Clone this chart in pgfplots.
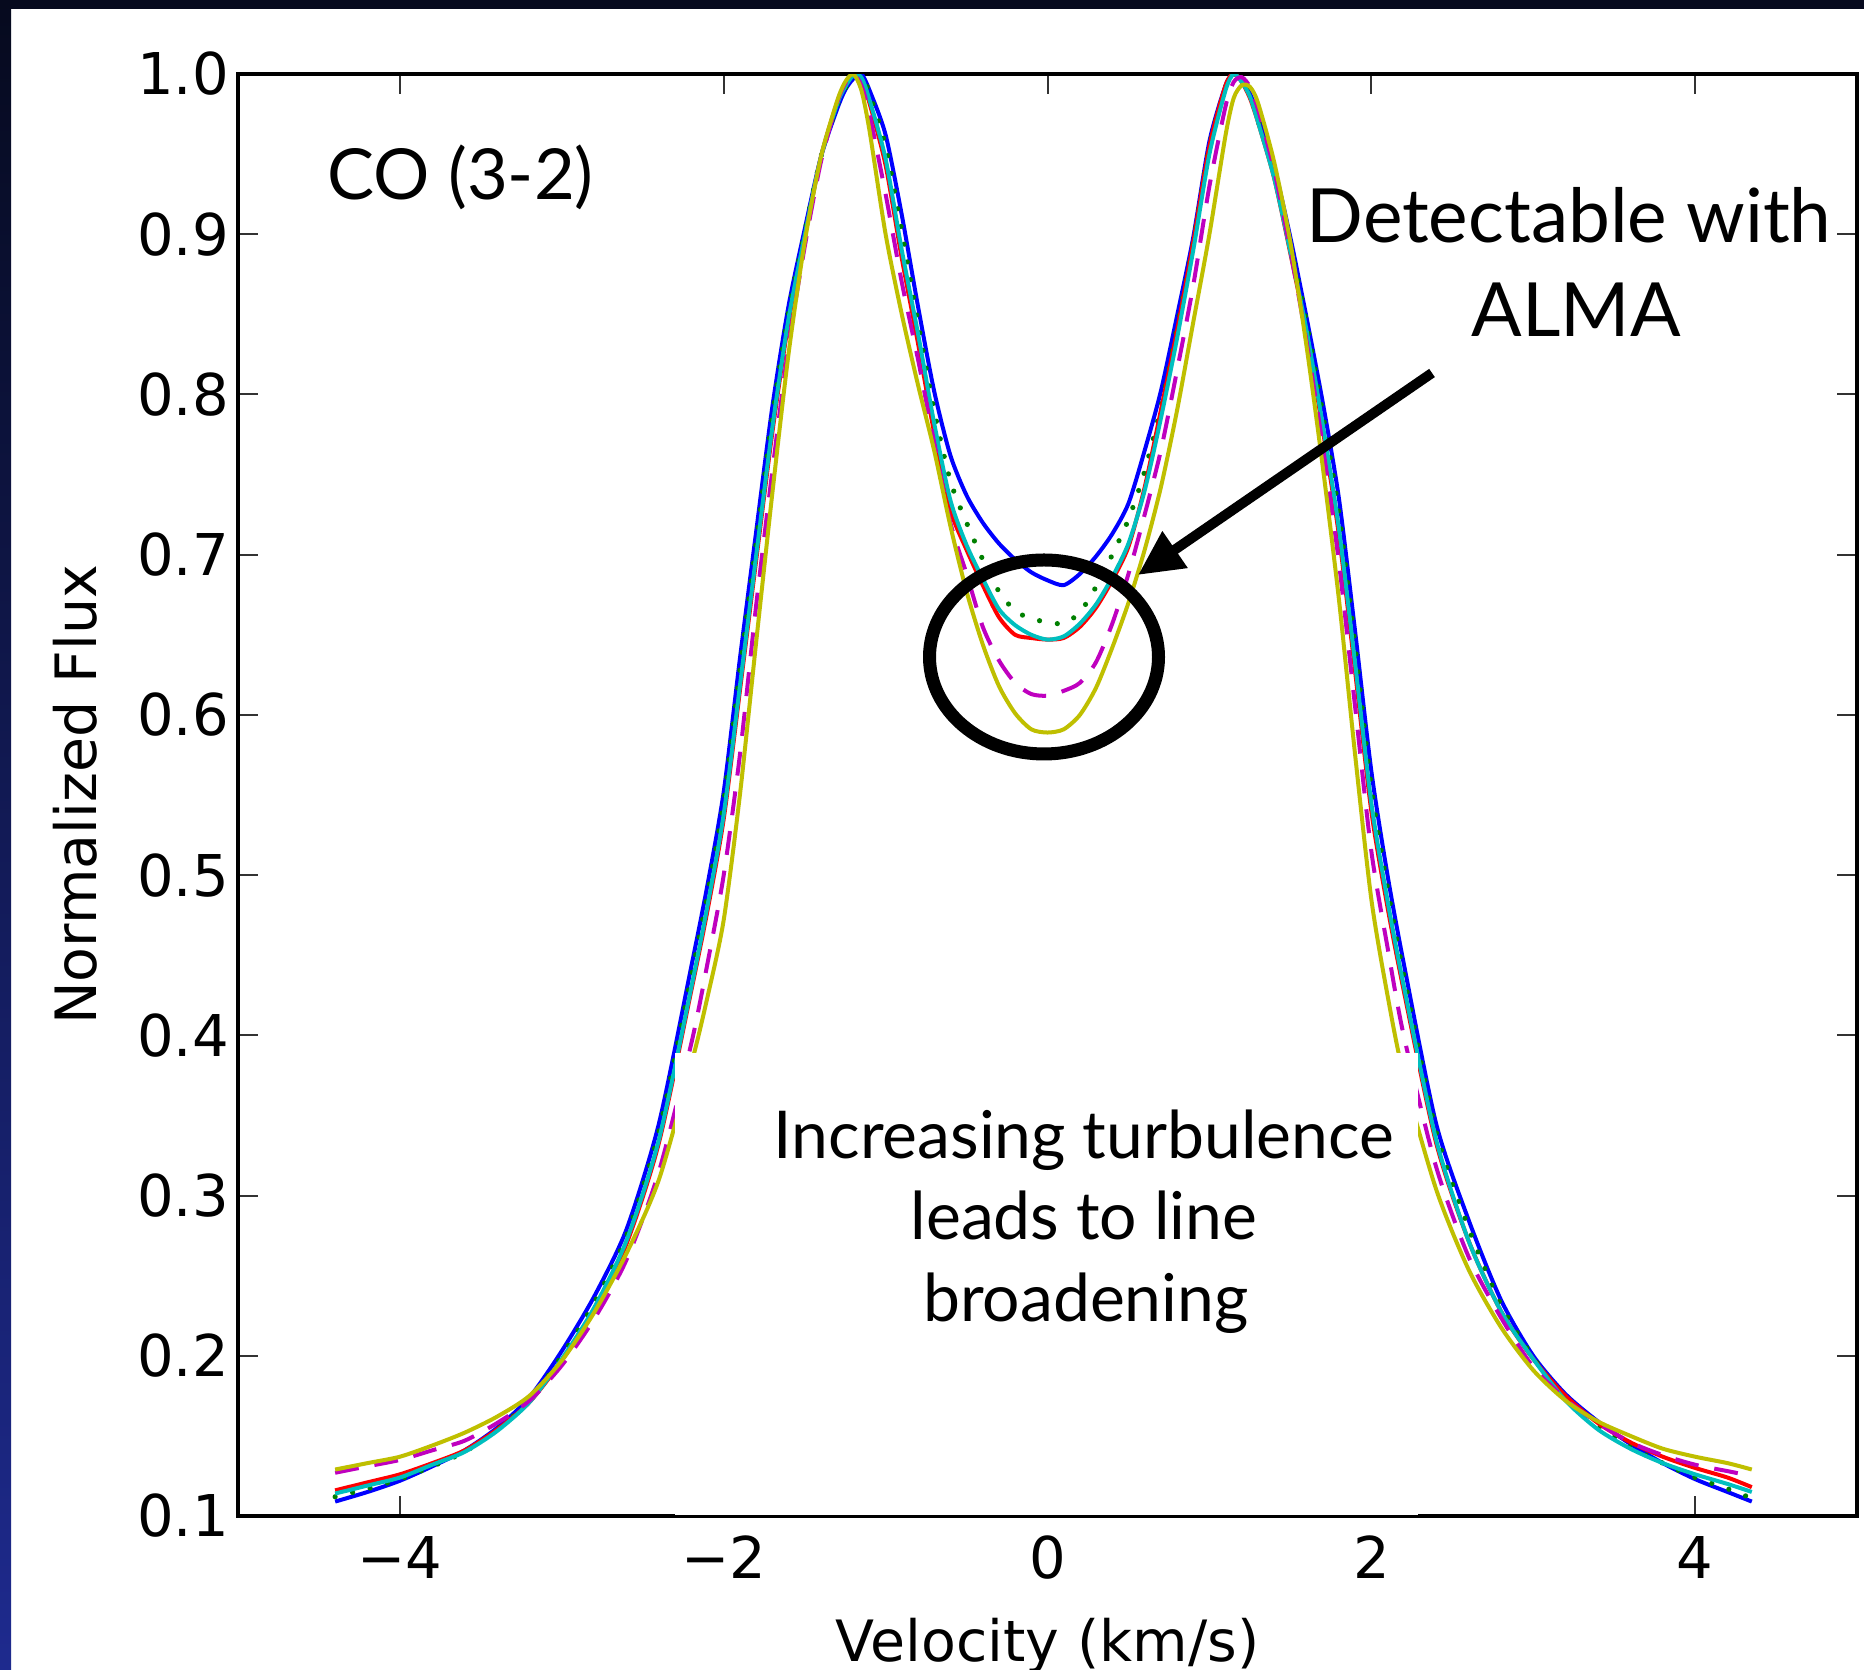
\documentclass[border=0pt]{standalone}
\usepackage{fontspec}
\setmainfont{DejaVu Sans}
\newfontfamily\lato{Lato}
\usepackage{pgfplots}
\pgfplotsset{compat=1.18}
\usepackage{pgfplotstable}
\usetikzlibrary{arrows.meta}

\definecolor{mplb}{rgb}{0,0,1}
\definecolor{mplg}{rgb}{0,0.5,0}
\definecolor{mplr}{rgb}{1,0,0}
\definecolor{mplc}{rgb}{0,0.75,0.75}
\definecolor{mplm}{rgb}{0.75,0,0.75}
\definecolor{mply}{rgb}{0.75,0.75,0}
\definecolor{bgdark}{HTML}{060A1E}
\definecolor{bgblue}{HTML}{1E2A8E}

\pgfplotstableread{
x b g r c m y
-4.40 0.109 0.112 0.116 0.114 0.127 0.129
-4.20 0.115 0.117 0.121 0.119 0.131 0.133
-4.00 0.122 0.123 0.126 0.124 0.135 0.137
-3.80 0.131 0.131 0.133 0.132 0.141 0.144
-3.60 0.141 0.140 0.141 0.140 0.147 0.152
-3.40 0.155 0.154 0.154 0.153 0.158 0.162
-3.20 0.174 0.172 0.171 0.171 0.172 0.175
-3.00 0.203 0.200 0.197 0.198 0.194 0.197
-2.80 0.237 0.233 0.229 0.230 0.223 0.227
-2.60 0.279 0.275 0.270 0.272 0.260 0.264
-2.40 0.345 0.340 0.333 0.335 0.315 0.310
-2.20 0.443 0.437 0.428 0.430 0.395 0.382
-2.10 0.494 0.488 0.478 0.481 0.445 0.424
-2.00 0.552 0.546 0.535 0.538 0.500 0.472
-1.90 0.635 0.628 0.615 0.618 0.575 0.550
-1.80 0.714 0.707 0.696 0.699 0.668 0.645
-1.70 0.792 0.786 0.776 0.779 0.752 0.738
-1.60 0.855 0.851 0.845 0.847 0.830 0.825
-1.50 0.903 0.901 0.898 0.899 0.892 0.895
-1.40 0.948 0.948 0.948 0.948 0.945 0.948
-1.30 0.978 0.980 0.982 0.981 0.982 0.983
-1.25 0.990 0.991 0.993 0.992 0.994 0.995
-1.20 0.997 0.998 1.000 0.999 1.000 1.000
-1.15 1.000 1.000 0.997 0.998 0.993 0.990
-1.10 0.990 0.988 0.982 0.984 0.975 0.965
-1.00 0.962 0.955 0.943 0.947 0.925 0.900
-0.90 0.912 0.902 0.885 0.890 0.870 0.850
-0.80 0.855 0.845 0.832 0.838 0.822 0.806
-0.70 0.802 0.790 0.776 0.782 0.770 0.765
-0.60 0.762 0.746 0.728 0.734 0.720 0.718
-0.50 0.737 0.720 0.703 0.706 0.688 0.677
-0.40 0.720 0.697 0.681 0.685 0.655 0.644
-0.30 0.707 0.677 0.661 0.666 0.634 0.618
-0.20 0.697 0.665 0.650 0.656 0.620 0.601
-0.10 0.689 0.660 0.648 0.650 0.613 0.591
0.00 0.684 0.658 0.647 0.647 0.612 0.589
0.10 0.681 0.657 0.648 0.649 0.615 0.591
0.20 0.688 0.664 0.655 0.657 0.620 0.600
0.30 0.699 0.680 0.667 0.669 0.633 0.617
0.40 0.713 0.700 0.684 0.686 0.657 0.642
0.50 0.732 0.722 0.705 0.707 0.688 0.670
0.60 0.765 0.752 0.742 0.740 0.725 0.703
0.70 0.802 0.792 0.790 0.785 0.765 0.742
0.80 0.849 0.842 0.840 0.835 0.815 0.790
0.90 0.898 0.895 0.895 0.890 0.868 0.845
1.00 0.958 0.955 0.955 0.950 0.930 0.900
1.10 0.993 0.992 0.993 0.990 0.980 0.962
1.15 1.000 1.000 1.000 1.000 0.995 0.985
1.20 0.996 0.996 0.995 0.995 0.998 0.993
1.25 0.988 0.986 0.985 0.986 0.992 0.992
1.30 0.974 0.971 0.970 0.970 0.978 0.982
1.40 0.942 0.937 0.935 0.935 0.940 0.945
1.50 0.898 0.893 0.888 0.889 0.890 0.895
1.60 0.848 0.845 0.838 0.840 0.833 0.830
1.70 0.795 0.788 0.778 0.781 0.768 0.755
1.80 0.735 0.726 0.712 0.716 0.695 0.672
1.90 0.652 0.643 0.627 0.632 0.605 0.575
2.00 0.565 0.555 0.540 0.545 0.515 0.485
2.10 0.500 0.492 0.480 0.484 0.455 0.425
2.20 0.445 0.438 0.428 0.431 0.400 0.375
2.40 0.345 0.340 0.333 0.335 0.318 0.304
2.60 0.285 0.280 0.272 0.272 0.262 0.254
2.80 0.235 0.232 0.228 0.228 0.224 0.218
3.00 0.200 0.199 0.198 0.198 0.193 0.191
3.20 0.176 0.174 0.175 0.172 0.173 0.172
3.40 0.159 0.157 0.158 0.154 0.158 0.159
3.60 0.145 0.143 0.146 0.142 0.146 0.150
3.80 0.133 0.133 0.137 0.133 0.138 0.142
4.00 0.123 0.124 0.130 0.126 0.132 0.137
4.20 0.115 0.117 0.124 0.120 0.128 0.133
4.35 0.109 0.111 0.118 0.115 0.125 0.129
}\profiles

\begin{document}
\begin{tikzpicture}
\useasboundingbox (0,0) rectangle (466pt,417.5pt);
\clip (0,0) rectangle (466pt,417.5pt);
\fill[white] (0,0) rectangle (466pt,417.5pt);
\shade[top color=bgdark, bottom color=bgblue] (0,0) rectangle (2.75pt,417.5pt);
\fill[bgdark] (0,415.25pt) rectangle (466pt,417.5pt);
\begin{axis}[
  at={(59.5pt,38.5pt)}, anchor=south west, scale only axis,
  width=404.75pt, height=360.5pt,
  xmin=-5, xmax=5, ymin=0.1, ymax=1.0,
  xtick={-4,-2,0,2,4}, xticklabels={−4,−2,0,2,4},
  ytick={0.1,0.2,0.3,0.4,0.5,0.6,0.7,0.8,0.9,1.0},
  yticklabels={0.1,0.2,0.3,0.4,0.5,0.6,0.7,0.8,0.9,1.0},
  tick align=inside, major tick length=5pt,
  xtick pos=both, ytick pos=both,
  xticklabel pos=bottom, yticklabel pos=left,
  tick style={line width=0.5pt, color=black!80},
  axis line style={line width=1pt},
  ticklabel style={font=\fontsize{14.4}{17}\selectfont},
  xticklabel style={yshift=-1.5pt},
  yticklabel style={xshift=1.2pt},
  label style={font=\fontsize{14.25}{17}\selectfont},
  xlabel={Velocity (km/s)}, ylabel={Normalized Flux},
  xlabel style={at={(axis description cs:0.5,-0.1012)}, anchor=base},
  ylabel style={at={(axis description cs:-0.1007,0.5)}, anchor=center},
  every axis plot/.append style={line width=1pt, smooth, tension=0.45},
]
\addplot[mplb] table[x=x,y=b]{\profiles};
\addplot[mplg, line width=1.3pt, line cap=round, dash pattern=on 0pt off 4.5pt] table[x=x,y=g]{\profiles};
\addplot[mplr] table[x=x,y=r]{\profiles};
\addplot[mplc] table[x=x,y=c]{\profiles};
\addplot[mplm, dash pattern=on 6pt off 4pt] table[x=x,y=m]{\profiles};
\addplot[mply] table[x=x,y=y]{\profiles};
\end{axis}
\begin{scope}[x=0.25pt,y=-0.25pt,yshift=417.5pt]
\fill[white] (675,1053) rectangle (1418,1515);
\node[anchor=base, inner sep=0, font=\lato\fontsize{16.5}{20}\selectfont] at (1084,1159) {Increasing turbulence};
\node[anchor=base, inner sep=0, font=\lato\fontsize{16.5}{20}\selectfont] at (1084,1240) {leads to line};
\node[anchor=base, inner sep=0, font=\lato\fontsize{16.5}{20}\selectfont] at (1086,1322) {broadening};
\node[anchor=base west, inner sep=0, font=\lato\fontsize{17.6}{21}\selectfont] at (327,200) {CO (3-2)};
\node[anchor=base, inner sep=0, font=\lato\fontsize{18.7}{22}\selectfont] at (1569,243) {Detectable with};
\node[anchor=base, inner sep=0, font=\lato\fontsize{18.7}{22}\selectfont] at (1576,337) {ALMA};
\draw[line width=3.25pt] (1044,657) ellipse [x radius=114.5, y radius=97];
\draw[line width=2.5pt, -{Triangle[length=11.25pt,width=10.5pt]}] (1432,373) -- (1138,575);
\end{scope}
\end{tikzpicture}
\end{document}
